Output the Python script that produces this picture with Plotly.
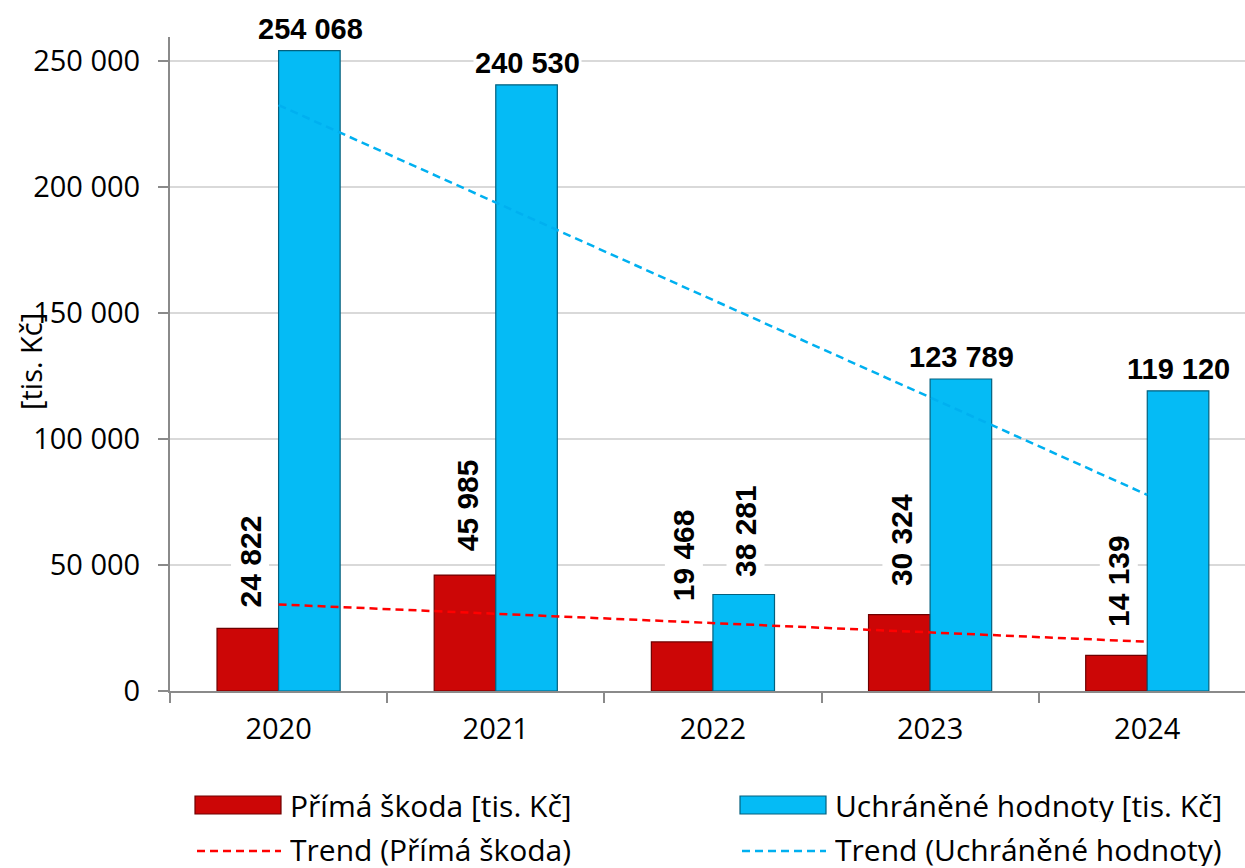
import numpy as np
import plotly.graph_objects as go

# ---------------- data ----------------
years = ["2020", "2021", "2022", "2023", "2024"]
prima_skoda = [24822, 45985, 19468, 30324, 14139]
uchranene = [254068, 240530, 38281, 123789, 119120]
prima_labels = ["24 822", "45 985", "19 468", "30 324", "14 139"]
uchr_labels = ["254 068", "240 530", "38 281", "123 789", "119 120"]
uchr_label_vertical = [False, False, True, False, False]
y_tickvals = [0, 50000, 100000, 150000, 200000, 250000]
y_ticktext = ["0", "50 000", "100 000", "150 000", "200 000", "250 000"]
name_prima = "Přímá škoda [tis. Kč]"
name_uchr = "Uchráněné hodnoty [tis. Kč]"
name_trend_prima = "Trend (Přímá škoda)"
name_trend_uchr = "Trend (Uchráněné hodnoty)"
y_title = "[tis. Kč]"

# ---------------- style ----------------
W, H = 1245, 868
ML, MR, MT, MB = 170, 0, 37, 177
PW, PH = W - ML - MR, H - MT - MB
RED, RED_EDGE = "#cc0606", "#6e0000"
BLUE, BLUE_EDGE = "#05bbf5", "#04607e"
RED_TREND, BLUE_TREND = "#ff0000", "#00b0f0"
TXT_FONT = "Open Sans, Lato, sans-serif"
LBL_FONT = "Liberation Sans, Arial, sans-serif"
# pixel gaps between bar top and its label (style only)
prima_label_gap = [20, 23, 40, 27, 27]
uchr_label_gap = [13, 13, 16, 13, 13]


def px_x(p):
    return (p - ML) / PW


def px_y(p):
    return (H - MB - p) / PH


idx = np.arange(len(years))


def trend(vals):
    k, q = np.polyfit(idx, np.asarray(vals, dtype=float), 1)
    return k * idx + q


fig = go.Figure()
fig.add_trace(go.Bar(x=years, y=prima_skoda, name=name_prima, marker=dict(color=RED, line=dict(color=RED_EDGE, width=1.2)), showlegend=False))
fig.add_trace(go.Bar(x=years, y=uchranene, name=name_uchr, marker=dict(color=BLUE, line=dict(color=BLUE_EDGE, width=1.2)), showlegend=False))
fig.add_trace(go.Scatter(x=years, y=trend(prima_skoda), mode="lines", name=name_trend_prima,
                         line=dict(color=RED_TREND, width=2.5, dash="8px,5px"), showlegend=False))
fig.add_trace(go.Scatter(x=years, y=trend(uchranene), mode="lines", name=name_trend_uchr,
                         line=dict(color=BLUE_TREND, width=2.5, dash="8px,5px"), showlegend=False))

OFF = 30.6
annotations = []
for i, (v, t) in enumerate(zip(prima_skoda, prima_labels)):
    annotations.append(dict(x=i, y=v, xref="x", yref="y", text="<b>%s</b>" % t, textangle=-90,
                            showarrow=False, xanchor="center", yanchor="bottom", xshift=-OFF + 2,
                            yshift=prima_label_gap[i] - 2,
                            font=dict(family=LBL_FONT, size=30, color="black"), bgcolor="white", borderpad=2))
for i, (v, t, vert) in enumerate(zip(uchranene, uchr_labels, uchr_label_vertical)):
    if vert:
        annotations.append(dict(x=i, y=v, xref="x", yref="y", text="<b>%s</b>" % t, textangle=-90,
                                showarrow=False, xanchor="center", yanchor="bottom", xshift=OFF + 2,
                                yshift=uchr_label_gap[i] - 2,
                                font=dict(family=LBL_FONT, size=30, color="black"), bgcolor="white", borderpad=2))
    else:
        annotations.append(dict(x=i, y=v, xref="x", yref="y", text="<b>%s</b>" % t,
                                showarrow=False, xanchor="center", yanchor="bottom", xshift=OFF + 1,
                                yshift=uchr_label_gap[i] - 9,
                                font=dict(family=LBL_FONT, size=29, color="black"), bgcolor="white", borderpad=1))

# y-axis title
annotations.append(dict(x=px_x(30), y=px_y(362), xref="paper", yref="paper", text=y_title, textangle=-90,
                        showarrow=False, xanchor="center", yanchor="middle",
                        font=dict(family=TXT_FONT, size=29, color="black")))

# manual legend
shapes = []
legend_items = [
    (name_prima, "bar", RED, RED_EDGE, 195, 805),
    (name_uchr, "bar", BLUE, BLUE_EDGE, 740, 805),
    (name_trend_prima, "line", RED_TREND, None, 195, 849),
    (name_trend_uchr, "line", BLUE_TREND, None, 740, 849),
]
for name, kind, col, edge, x0, yc in legend_items:
    if kind == "bar":
        shapes.append(dict(type="rect", xref="paper", yref="paper", x0=px_x(x0), x1=px_x(x0 + 86),
                           y0=px_y(yc + 9), y1=px_y(yc - 9), fillcolor=col, line=dict(color=edge, width=1.2)))
    else:
        shapes.append(dict(type="line", xref="paper", yref="paper", x0=px_x(x0 + 2), x1=px_x(x0 + 86),
                           y0=px_y(yc + 2), y1=px_y(yc + 2), line=dict(color=col, width=2.5, dash="8px,5px")))
    annotations.append(dict(x=px_x(x0 + 93), y=px_y(yc), xref="paper", yref="paper", text=name,
                            showarrow=False, xanchor="left", yanchor="middle", height=34, valign="middle",
                            font=dict(family=TXT_FONT, size=30, color="black")))

fig.update_layout(
    width=W, height=H,
    margin=dict(l=ML, r=MR, t=MT, b=MB, pad=0),
    paper_bgcolor="white", plot_bgcolor="white",
    barmode="group", bargap=0.433, bargroupgap=0,
    showlegend=False,
    annotations=annotations, shapes=shapes,
    font=dict(family=TXT_FONT, size=29, color="black"),
)
fig.update_xaxes(type="category", range=[-0.5, 4.45], showline=True, linecolor="#8a8a8a", linewidth=2,
                 ticks="outside", tickson="boundaries", ticklen=10, tickcolor="#8a8a8a", tickwidth=2,
                 showgrid=False, ticklabelstandoff=11, tickfont=dict(family=TXT_FONT, size=29, color="black"))
fig.update_yaxes(range=[0, 259500], tickvals=y_tickvals, ticktext=y_ticktext, showline=True,
                 linecolor="#8a8a8a", linewidth=2, ticks="outside", ticklen=10, tickcolor="#8a8a8a", tickwidth=2,
                 showgrid=True, gridcolor="#d9d9d9", gridwidth=1.5, zeroline=False, ticklabelstandoff=12,
                 tickfont=dict(family=TXT_FONT, size=29, color="black"))

fig.write_html("out.html", config={"displayModeBar": False}, post_script="document.body.style.margin='0';")
